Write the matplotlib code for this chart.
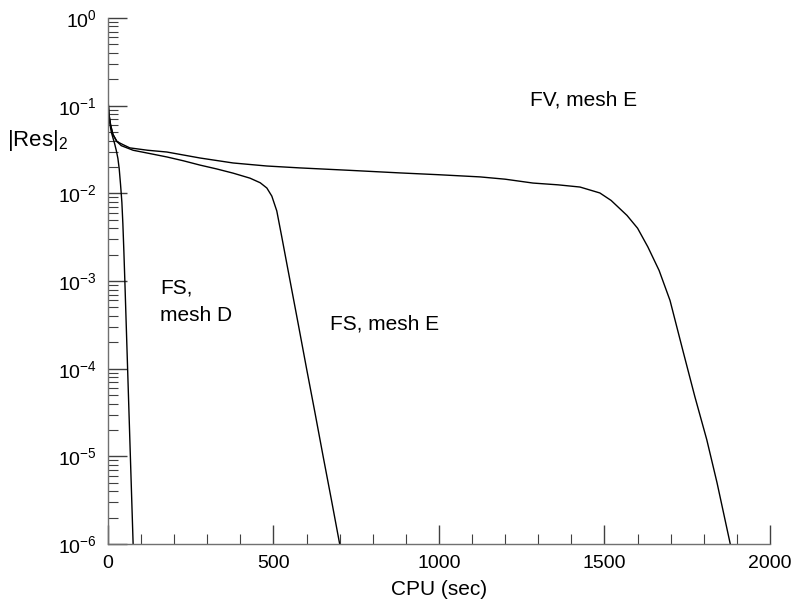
import matplotlib

matplotlib.use("Agg")
import matplotlib.pyplot as plt
import numpy as np
from matplotlib.ticker import FixedLocator, LogFormatterSciNotation, NullFormatter

plt.rcParams["font.family"] = ["Liberation Sans", "DejaVu Sans"]
plt.rcParams["mathtext.fontset"] = "custom"
plt.rcParams["mathtext.rm"] = "Liberation Sans"
plt.rcParams["mathtext.it"] = "Liberation Sans:italic"

# residual history vs CPU time
fs_d_cpu = [0, 2, 5, 10, 15, 20, 25, 30, 34, 38, 42, 45, 48, 51, 60, 68, 76]
fs_d_res = [0.12, 0.085, 0.065, 0.050, 0.043, 0.037, 0.031, 0.025, 0.019,
            0.0126, 7.9e-3, 4.5e-3, 2.2e-3, 1.0e-3, 8.3e-5, 9.1e-6, 1.0e-6]

fs_e_cpu = [0, 3, 8, 15, 27, 40, 76, 125, 178, 228, 278, 328, 378, 429,
            460, 480, 495, 510, 525, 540, 575, 600, 625, 650, 675, 700]
fs_e_res = [0.12, 0.08, 0.06, 0.047, 0.039, 0.035, 0.031, 0.0285, 0.026,
            0.0235, 0.021, 0.019, 0.017, 0.0149, 0.0132, 0.0115, 9.3e-3,
            6.3e-3, 3.2e-3, 1.6e-3, 3.2e-4, 1.0e-4, 3.2e-5, 1.0e-5, 3.2e-6,
            1.0e-6]

fv_e_cpu = [0, 3, 8, 15, 27, 45, 66, 120, 178, 278, 378, 480, 580, 730,
            882, 1000, 1124, 1200, 1284, 1360, 1426, 1486, 1520, 1568, 1600,
            1631, 1665, 1698, 1737, 1773, 1809, 1840, 1880]
fv_e_res = [0.12, 0.08, 0.06, 0.047, 0.039, 0.036, 0.033, 0.031, 0.0296,
            0.0253, 0.0222, 0.0205, 0.0195, 0.0183, 0.0171, 0.0163, 0.0154,
            0.0145, 0.0131, 0.0125, 0.0118, 0.0101, 8.3e-3, 5.6e-3, 4.0e-3,
            2.45e-3, 1.32e-3, 6.0e-4, 1.6e-4, 4.8e-5, 1.55e-5, 5.0e-6,
            1.0e-6]

x_major = [0, 500, 1000, 1500, 2000]
y_decades = [1e-6, 1e-5, 1e-4, 1e-3, 1e-2, 1e-1, 1e0]

fig = plt.figure(figsize=(7.98, 6.04), dpi=100)
ax = fig.add_axes([0.1353, 0.0993, 0.8296, 0.8709])

for cpu, res in [(fs_d_cpu, fs_d_res), (fs_e_cpu, fs_e_res), (fv_e_cpu, fv_e_res)]:
    ax.plot(cpu, res, color="black", lw=1.0)

ax.set_yscale("log")
ax.set_xlim(0, 2000)
ax.set_ylim(1e-6, 1e0)

ax.xaxis.set_major_locator(FixedLocator(x_major))
ax.xaxis.set_minor_locator(FixedLocator(np.arange(0, 2001, 100)))
ax.yaxis.set_major_locator(FixedLocator(y_decades))
ax.yaxis.set_major_formatter(LogFormatterSciNotation())
y_minor = [m * d for d in y_decades[:-1] for m in range(2, 10)]
ax.yaxis.set_minor_locator(FixedLocator(y_minor))
ax.yaxis.set_minor_formatter(NullFormatter())

for side in ("top", "right"):
    ax.spines[side].set_visible(False)
for side in ("left", "bottom"):
    ax.spines[side].set_color("#707070")
    ax.spines[side].set_linewidth(1.0)

ax.tick_params(which="both", direction="in", color="#404040", labelsize=14)
ax.tick_params(which="major", length=14, width=1.0, pad=8)
ax.tick_params(which="minor", length=7, width=0.8)

ax.set_xlabel("CPU (sec)", fontsize=15, labelpad=6)
ax.text(-0.106, 0.768, r"$|\mathrm{Res}|_2$", transform=ax.transAxes,
        fontsize=16, ha="center", va="center")

ax.text(1275, 0.116, "FV, mesh E", fontsize=15, ha="left", va="center")
ax.text(671, 3.2e-4, "FS, mesh E", fontsize=15, ha="left", va="center")
ax.text(157, 5.8e-4, "FS,\nmesh D", fontsize=15, ha="left", va="center",
        linespacing=1.55)

fig.savefig("out.png", dpi=100)
